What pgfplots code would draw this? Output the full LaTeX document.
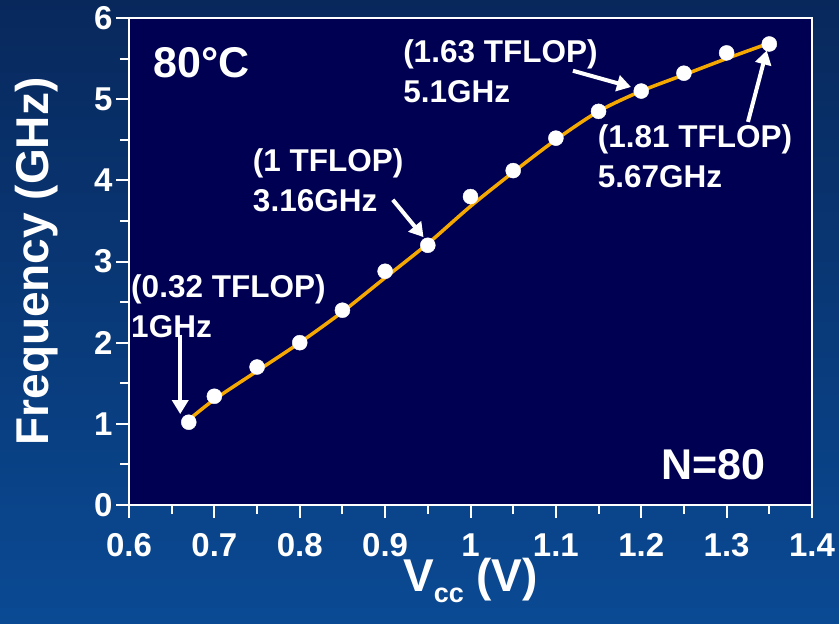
\documentclass[border=0pt]{standalone}
\usepackage{pgfplots}
\pgfplotsset{compat=1.18}
\usepackage{fontspec}
\setmainfont{Liberation Sans}
\usetikzlibrary{arrows.meta}
\definecolor{plotbg}{RGB}{0,0,82}
\definecolor{bgtop}{RGB}{8,40,92}
\definecolor{bgbot}{RGB}{10,74,148}
\definecolor{fitline}{RGB}{245,168,0}
\begin{document}
\begin{tikzpicture}
\shade[top color=bgtop,bottom color=bgbot] (-129bp,-119bp) rectangle (710bp,505bp);
\begin{axis}[at={(0,0)},anchor=south west,scale only axis,width=683bp,height=487bp,
  xmin=0.6,xmax=1.4,ymin=0,ymax=6,clip=false,
  axis background/.style={fill=plotbg},
  axis line style={white,line width=2.5bp},
  tick style={white,line width=2bp},
  tick align=outside,
  major tick length=13bp, minor tick length=9bp,
  xtick={0.6,0.7,0.8,0.9,1.0,1.1,1.2,1.3,1.4},
  xticklabels={0.6,0.7,0.8,0.9,1,1.1,1.2,1.3,1.4},
  ytick={0,1,2,3,4,5,6},
  yticklabels={0,1,2,3,4,5,6},
  minor x tick num=1, minor y tick num=1,
  xtick pos=bottom, ytick pos=left,
  tick label style={font=\fontsize{33bp}{33bp}\selectfont\bfseries,text=white},
  xticklabel style={yshift=-12bp},
  xlabel={V\raisebox{-0.25em}{\fontsize{27bp}{27bp}\selectfont cc} (V)},
  ylabel={Frequency (GHz)},
  label style={font=\fontsize{46bp}{46bp}\selectfont\bfseries,text=white},
  xlabel style={yshift=6bp},
  ylabel style={yshift=29bp},
]
\addplot[only marks,mark=*,mark size=7.5bp,mark options={fill=white,draw=white}] coordinates {
(0.67,1.02)(0.70,1.34)(0.75,1.70)(0.80,2.00)(0.85,2.40)(0.90,2.88)(0.95,3.20)
(1.00,3.80)(1.05,4.12)(1.10,4.52)(1.15,4.85)(1.20,5.10)(1.25,5.32)(1.30,5.57)(1.35,5.68)};
\addplot[fitline,line width=3.5bp,smooth,tension=0.5,no marks] coordinates {
(0.67,1.05)(0.70,1.30)(0.75,1.65)(0.80,2.00)(0.85,2.38)(0.90,2.80)(0.95,3.22)
(1.00,3.68)(1.05,4.10)(1.10,4.50)(1.15,4.85)(1.20,5.10)(1.25,5.30)(1.30,5.50)(1.35,5.69)};
\node[anchor=west,text=white,font=\fontsize{43bp}{43bp}\selectfont\bfseries] at (axis cs:0.625,5.45) {80°C};
\node[anchor=east,text=white,font=\fontsize{43bp}{43bp}\selectfont\bfseries] at (axis cs:1.35,0.5) {N=80};
\tikzset{ann/.style={anchor=north west,align=left,text=white,inner sep=0pt,font=\fontsize{31.5bp}{40bp}\selectfont\bfseries},
  arr/.style={white,line width=4bp,-{Triangle[length=14bp,width=16bp]}}}
\node[ann] at (axis cs:0.6024,2.84) {(0.32 TFLOP)\\1GHz};
\draw[arr] (axis cs:0.66,2.10) -- (axis cs:0.66,1.12);
\node[ann] at (axis cs:0.745,4.39) {(1 TFLOP)\\3.16GHz};
\draw[arr] (axis cs:0.909,3.76) -- (axis cs:0.945,3.30);
\node[ann] at (axis cs:0.921,5.73) {(1.63 TFLOP)\\5.1GHz};
\draw[arr] (axis cs:1.12,5.35) -- (axis cs:1.188,5.15);
\node[ann] at (axis cs:1.149,4.69) {(1.81 TFLOP)\\5.67GHz};
\draw[arr] (axis cs:1.325,4.72) -- (axis cs:1.347,5.6);
\end{axis}
\end{tikzpicture}
\end{document}
